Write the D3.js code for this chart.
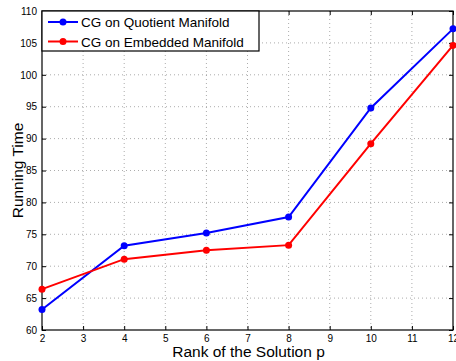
<!DOCTYPE html>
<html><head><meta charset="utf-8">
<script src="https://cdn.jsdelivr.net/npm/d3@7"></script>
<style>body{margin:0;background:#fff}svg{display:block}text{font-family:"Liberation Sans",Arial,sans-serif}</style>
</head><body><svg id="c" width="456" height="361"></svg>
<script>
const ranks = [2, 4, 6, 8, 10, 12];
const quotient = [63.2, 73.2, 75.2, 77.7, 94.8, 107.2];
const embedded = [66.4, 71.1, 72.5, 73.3, 89.2, 104.6];
const xTicks = [2,3,4,5,6,7,8,9,10,11,12];
const yTicks = [60,65,70,75,80,85,90,95,100,105,110];
const seriesNames = ["CG on Quotient Manifold", "CG on Embedded Manifold"];
const seriesColors = ["#0000ff", "#ff0000"];

const svg = d3.select("#c");
const L=42, R=453, T=11, B=330;
const x = d3.scaleLinear().domain([2,12]).range([L,R]);
const y = d3.scaleLinear().domain([60,110]).range([B,T]);

// grid
const g = svg.append("g");
g.selectAll(".gx").data(xTicks.slice(1,-1)).join("line")
  .attr("x1",d=>x(d)).attr("x2",d=>x(d)).attr("y1",T).attr("y2",B)
  .attr("stroke","#888").attr("stroke-width",0.7).attr("stroke-dasharray","1,3");
g.selectAll(".gy").data(yTicks.slice(1,-1)).join("line")
  .attr("y1",d=>y(d)).attr("y2",d=>y(d)).attr("x1",L).attr("x2",R)
  .attr("stroke","#888").attr("stroke-width",0.7).attr("stroke-dasharray","1,3");

// axes
const xa = svg.append("g").attr("transform",`translate(0,${B})`)
  .call(d3.axisBottom(x).tickValues(xTicks).tickSize(-4).tickPadding(5).tickFormat(d3.format("d")));
const xt = svg.append("g").attr("transform",`translate(0,${T})`)
  .call(d3.axisTop(x).tickValues(xTicks).tickSize(-4).tickFormat(""));
const ya = svg.append("g").attr("transform",`translate(${L},0)`)
  .call(d3.axisLeft(y).tickValues(yTicks).tickSize(-4).tickPadding(5).tickFormat(d3.format("d")));
const yr = svg.append("g").attr("transform",`translate(${R},0)`)
  .call(d3.axisRight(y).tickValues(yTicks).tickSize(-4).tickFormat(""));
[xa,xt,ya,yr].forEach(a=>{
  a.select(".domain").remove();
  a.selectAll("line").attr("stroke","#000");
  a.selectAll("text").attr("font-size",10).attr("fill","#000").attr("font-family","Liberation Sans, Arial, sans-serif");
});
svg.append("rect").attr("x",L).attr("y",T).attr("width",R-L).attr("height",B-T)
  .attr("fill","none").attr("stroke","#000").attr("stroke-width",1.2);

// series
const line = d3.line().x((d,i)=>x(ranks[i])).y(d=>y(d));
[quotient, embedded].forEach((s,k)=>{
  svg.append("path").attr("d",line(s)).attr("fill","none")
    .attr("stroke",seriesColors[k]).attr("stroke-width",2);
  svg.append("g").selectAll("circle").data(s).join("circle")
    .attr("cx",(d,i)=>x(ranks[i])).attr("cy",d=>y(d)).attr("r",3.5).attr("fill",seriesColors[k]);
});

// legend
const lg = svg.append("g");
lg.append("rect").attr("x",L).attr("y",T).attr("width",259-L).attr("height",51-T)
  .attr("fill","#fff").attr("stroke","#000").attr("stroke-width",1.2);
seriesNames.forEach((n,k)=>{
  const yy = 22 + k*19.5;
  lg.append("line").attr("x1",48).attr("x2",78).attr("y1",yy).attr("y2",yy)
    .attr("stroke",seriesColors[k]).attr("stroke-width",2);
  lg.append("circle").attr("cx",63).attr("cy",yy).attr("r",3.5).attr("fill",seriesColors[k]);
  lg.append("text").attr("x",81).attr("y",yy+5).attr("font-size",13.5).text(n);
});

// axis labels
svg.append("text").attr("x",x(7)+1).attr("y",357).attr("text-anchor","middle")
  .attr("font-size",15.5).text("Rank of the Solution p");
svg.append("text").attr("transform",`translate(23,${(T+B)/2}) rotate(-90)`)
  .attr("text-anchor","middle").attr("font-size",15.5).text("Running Time");
</script></body></html>
